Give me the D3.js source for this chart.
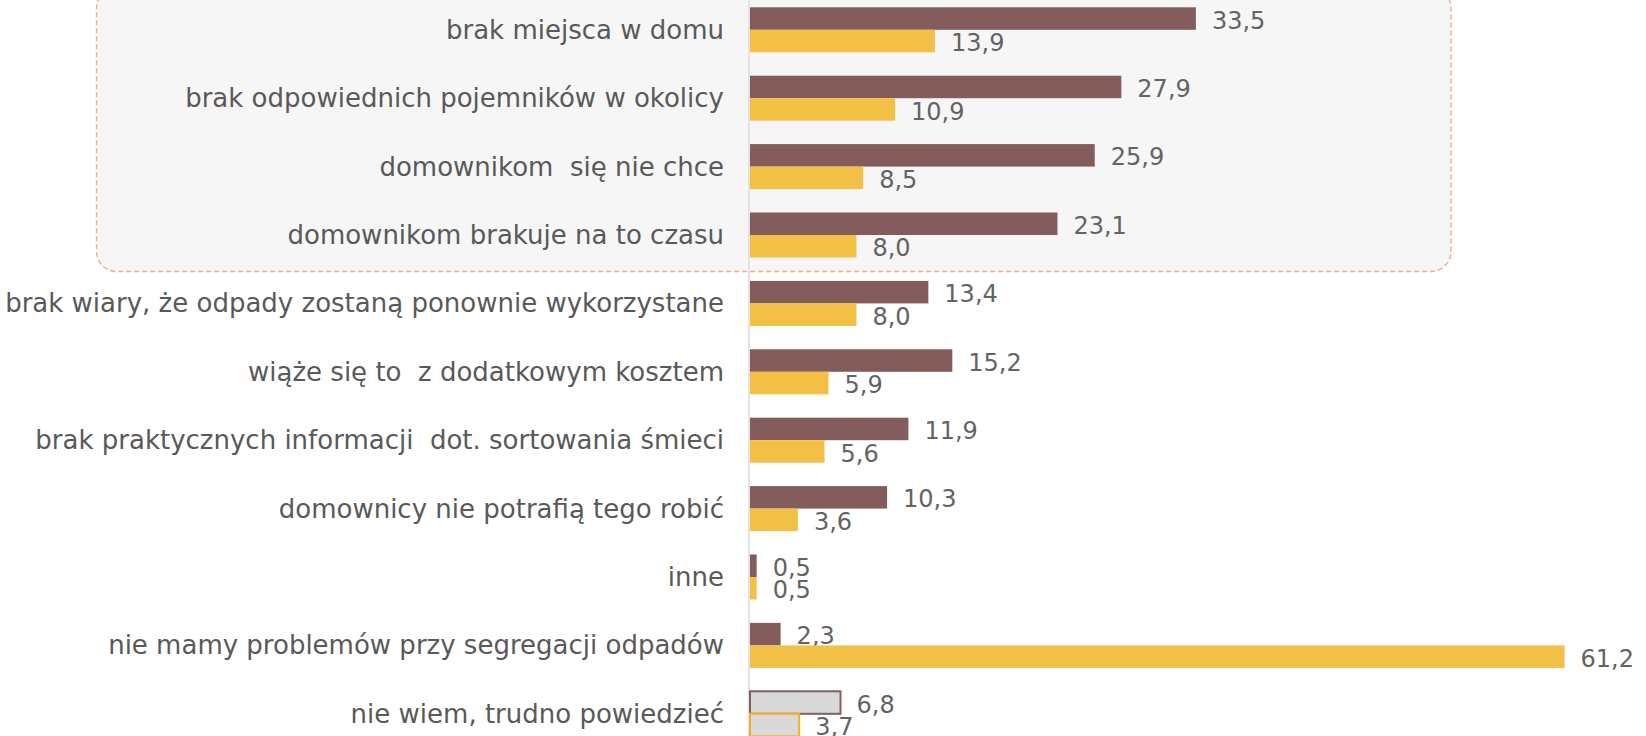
<!DOCTYPE html>
<meta charset="utf-8">
<script src="https://d3js.org/d3.v7.min.js"></script>
<style>
  body { margin: 0; background: #fff; }
  text { font-family: "DejaVu Sans", sans-serif; white-space: pre; }
</style>
<svg id="chart"></svg>
<script>
// categories, top to bottom
var categories = [
  "brak miejsca w domu",
  "brak odpowiednich pojemników w okolicy",
  "domownikom  się nie chce",
  "domownikom brakuje na to czasu",
  "brak wiary, że odpady zostaną ponownie wykorzystane",
  "wiąże się to  z dodatkowym kosztem",
  "brak praktycznych informacji  dot. sortowania śmieci",
  "domownicy nie potrafią tego robić",
  "inne",
  "nie mamy problemów przy segregacji odpadów",
  "nie wiem, trudno powiedzieć"
];
var seriesA = [33.5, 27.9, 25.9, 23.1, 13.4, 15.2, 11.9, 10.3, 0.5, 2.3, 6.8];
var seriesB = [13.9, 10.9, 8.5, 8.0, 8.0, 5.9, 5.6, 3.6, 0.5, 61.2, 3.7];
var seriesNames = ["A", "B"];
var highlighted = categories.slice(0, 4);

var width = 1646, height = 736;
var svg = d3.select("#chart").attr("width", width).attr("height", height);

var brown = "#845c5b", yellow = "#f2c045", grey = "#d9d9d9";

var y = d3.scaleBand()
  .domain(categories)
  .range([-4.4, 748])
  .paddingInner(0.342)
  .paddingOuter(0.171);

var ySub = d3.scaleBand()
  .domain(seriesNames)
  .range([0, y.bandwidth()]);

var x = d3.scaleLinear()
  .domain([0, 70])
  .range([750, 750 + 70 * 13.31]);

// highlight box behind first four rows
var boxTop = y(highlighted[0]) - 19;
var boxBottom = y(highlighted[highlighted.length - 1]) + y.bandwidth() + 14;
svg.append("rect")
  .attr("x", 96.5)
  .attr("y", boxTop)
  .attr("width", 1451 - 96.5)
  .attr("height", boxBottom - boxTop)
  .attr("rx", 20)
  .attr("fill", "#f6f6f6")
  .attr("stroke", "#f4ab8e")
  .attr("stroke-width", 1.4)
  .attr("stroke-dasharray", "5,3");

// axis line
svg.append("line")
  .attr("x1", x(0) - 1).attr("x2", x(0) - 1)
  .attr("y1", 0).attr("y2", height)
  .attr("stroke", "#e3e3e3")
  .attr("stroke-width", 2);

var rows = categories.map(function (c, i) {
  return { cat: c, vals: [seriesA[i], seriesB[i]], last: i === categories.length - 1 };
});

var g = svg.append("g").selectAll("g")
  .data(rows)
  .enter().append("g")
  .attr("transform", function (d) { return "translate(0," + y(d.cat) + ")"; });

// category labels
g.append("text")
  .attr("x", 724)
  .attr("y", y.bandwidth() / 2)
  .attr("dy", "0.35em")
  .attr("text-anchor", "end")
  .attr("fill", "#595959")
  .style("font-size", "26px")
  .text(function (d) { return d.cat; });

var bars = g.selectAll("g.bar")
  .data(function (d) {
    return d.vals.map(function (v, j) { return { key: seriesNames[j], v: v, last: d.last }; });
  })
  .enter().append("g").attr("class", "bar");

bars.append("rect")
  .attr("x", x(0))
  .attr("y", function (d) { return ySub(d.key); })
  .attr("width", function (d) { return x(d.v) - x(0); })
  .attr("height", ySub.bandwidth())
  .attr("fill", function (d) {
    if (d.last) return grey;
    return d.key === "A" ? brown : yellow;
  })
  .attr("stroke", function (d) {
    if (d.last) return d.key === "A" ? brown : "#f0b21e";
    return "none";
  })
  .attr("stroke-width", 2);

bars.append("text")
  .attr("x", function (d) { return x(d.v) + 16; })
  .attr("y", function (d) { return ySub(d.key) + ySub.bandwidth() / 2; })
  .attr("dy", "0.42em")
  .attr("fill", "#636363")
  .style("font-size", "24px")
  .text(function (d) { return d3.format(".1f")(d.v).replace(".", ","); });
</script>
